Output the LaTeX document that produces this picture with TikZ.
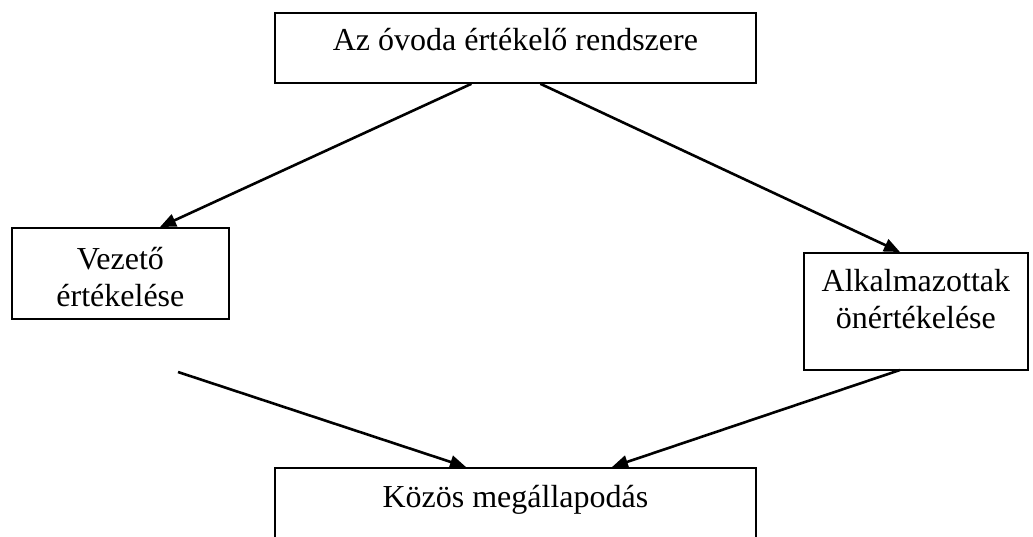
\documentclass[tikz,border=0pt]{standalone}
\usepackage{fontspec}
\setmainfont{Liberation Serif}
\usetikzlibrary{arrows.meta}
\begin{document}
\begin{tikzpicture}[x=1pt,y=-1pt,
  box/.style={draw, line width=1.8pt, inner sep=0pt, anchor=north west},
  txt/.style={font=\fontsize{32}{37}\selectfont, align=center, anchor=base, inner sep=0pt},
  arr/.style={line width=2.6pt, -{Triangle[length=16pt,width=13pt]}}]
\useasboundingbox (0,0) rectangle (1033,536);
% boxes
\node[box, minimum width=481pt, minimum height=70pt] (top) at (274,12) {};
\node[box, minimum width=217pt, minimum height=91pt] (lead) at (11,227) {};
\node[box, minimum width=224pt, minimum height=117pt] (staff) at (803,252) {};
\node[box, minimum width=481pt, minimum height=72pt] (agree) at (274,467) {};
% labels (base anchor = baseline of the last line)
\node[txt] (ttop) at ([yshift=-38pt]top.north) {Az óvoda értékelő rendszere};
\node[txt] (tlead) at ([yshift=-79pt]lead.north) {Vezető\\értékelése};
\node[txt] (tstaff) at ([yshift=-76pt]staff.north) {Alkalmazottak\\önértékelése};
\node[txt] (tagree) at ([yshift=-40pt]agree.north) {Közös megállapodás};
% connectors
\coordinate (s3) at (178,372);
\coordinate (s4) at (900,370);
\draw[arr] ([xshift=-44pt]top.south) -- ([xshift=149pt]lead.north west);
\draw[arr] ([xshift=25pt]top.south) -- ([xshift=97pt]staff.north west);
\draw[arr] (s3) -- ([xshift=192pt]agree.north west);
\draw[arr] (s4) -- ([xshift=338pt]agree.north west);
\end{tikzpicture}
\end{document}
